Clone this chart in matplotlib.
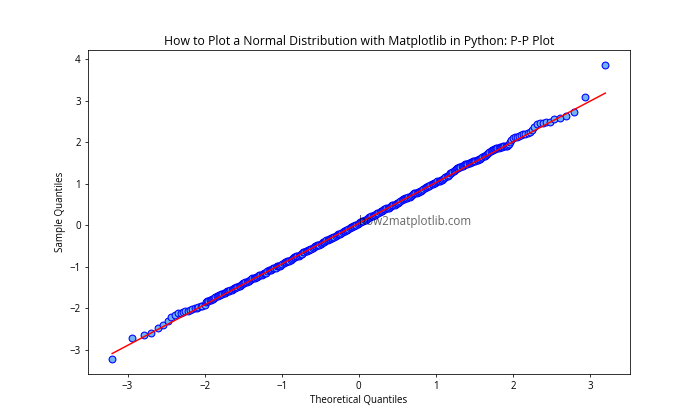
import matplotlib
matplotlib.use("Agg")
import matplotlib.pyplot as plt
import numpy as np

plt.rcParams['font.family'] = ['Open Sans', 'DejaVu Sans']

# Theoretical quantiles (x) and ordered sample values (y)
x_low = [-3.20, -2.94, -2.79, -2.69, -2.61, -2.54, -2.48, -2.43, -2.39, -2.35, -2.31,
         -2.28, -2.25, -2.22, -2.19, -2.16, -2.13, -2.10, -2.08, -2.05, -2.03, -2.00]
y_low = [-3.22, -2.71, -2.65, -2.60, -2.47, -2.41, -2.31, -2.21, -2.15, -2.12, -2.10,
         -2.08, -2.06, -2.05, -2.04, -2.02, -2.00, -1.98, -1.96, -1.95, -1.93, -1.91]

x_mid = [-1.98, -1.95, -1.92, -1.89, -1.86, -1.83, -1.80, -1.77, -1.74, -1.71, -1.68,
         -1.65, -1.62, -1.59, -1.56, -1.53, -1.50, -1.47, -1.44, -1.41, -1.38, -1.35,
         -1.32, -1.29, -1.26, -1.23, -1.20, -1.17, -1.14, -1.11, -1.08, -1.05, -1.02,
         -0.99, -0.96, -0.93, -0.90, -0.87, -0.84, -0.81, -0.78, -0.75, -0.72, -0.69,
         -0.66, -0.63, -0.60, -0.57, -0.54, -0.51, -0.48, -0.45, -0.42, -0.39, -0.36,
         -0.33, -0.30, -0.27, -0.24, -0.21, -0.18, -0.15, -0.12, -0.09, -0.06, -0.03,
         0.00, 0.03, 0.06, 0.09, 0.12, 0.15, 0.18, 0.21, 0.24, 0.27, 0.30, 0.33, 0.36,
         0.39, 0.42, 0.45, 0.48, 0.51, 0.54, 0.57, 0.60, 0.63, 0.66, 0.69, 0.72, 0.75,
         0.78, 0.81, 0.84, 0.87, 0.90, 0.93, 0.96, 0.99, 1.02, 1.05, 1.08, 1.11, 1.14,
         1.17, 1.20, 1.23, 1.26, 1.29, 1.32, 1.35, 1.38, 1.41, 1.44, 1.47, 1.50, 1.53,
         1.56, 1.59, 1.62, 1.65, 1.68, 1.71, 1.74, 1.77, 1.80, 1.83, 1.86, 1.89, 1.92,
         1.95, 1.98]
y_mid = [-1.85, -1.81, -1.79, -1.77, -1.73, -1.69, -1.67, -1.65, -1.62, -1.59, -1.57,
         -1.55, -1.51, -1.49, -1.47, -1.43, -1.39, -1.37, -1.35, -1.31, -1.27, -1.26,
         -1.24, -1.20, -1.19, -1.15, -1.14, -1.08, -1.07, -1.03, -1.02, -0.97, -0.97,
         -0.92, -0.88, -0.86, -0.85, -0.81, -0.76, -0.74, -0.73, -0.70, -0.65, -0.61,
         -0.60, -0.58, -0.54, -0.50, -0.48, -0.47, -0.43, -0.39, -0.35, -0.33, -0.31,
         -0.29, -0.25, -0.21, -0.20, -0.15, -0.13, -0.11, -0.07, -0.03, -0.01, 0.01,
         0.05, 0.09, 0.11, 0.13, 0.17, 0.21, 0.23, 0.25, 0.30, 0.33, 0.35, 0.39, 0.41,
         0.43, 0.47, 0.49, 0.51, 0.55, 0.59, 0.63, 0.65, 0.67, 0.69, 0.73, 0.77, 0.79,
         0.80, 0.84, 0.88, 0.92, 0.94, 0.98, 1.00, 1.02, 1.06, 1.08, 1.10, 1.14, 1.18,
         1.22, 1.27, 1.31, 1.35, 1.38, 1.41, 1.44, 1.47, 1.49, 1.51, 1.53, 1.55, 1.57,
         1.59, 1.62, 1.66, 1.70, 1.75, 1.79, 1.82, 1.85, 1.86, 1.88, 1.89, 1.90, 1.92,
         1.96, 2.05]

x_mid2 = [-1.965, -1.935, -1.905, -1.875, -1.845, -1.815, -1.785, -1.755, -1.725, -1.695,
          -1.665, -1.635, -1.605, -1.575, -1.545, -1.515, -1.485, -1.455, -1.425, -1.395,
          -1.365, -1.335, -1.305, -1.275, -1.245, -1.215, -1.185, -1.155, -1.125, -1.095,
          -1.065, -1.035, -1.005, -0.975, -0.945, -0.915, -0.885, -0.855, -0.825, -0.795,
          -0.765, -0.735, -0.705, -0.675, -0.645, -0.615, -0.585, -0.555, -0.525, -0.495,
          -0.465, -0.435, -0.405, -0.375, -0.345, -0.315, -0.285, -0.255, -0.225, -0.195,
          -0.165, -0.135, -0.105, -0.075, -0.045, -0.015, 0.015, 0.045, 0.075, 0.105,
          0.135, 0.165, 0.195, 0.225, 0.255, 0.285, 0.315, 0.345, 0.375, 0.405, 0.435,
          0.465, 0.495, 0.525, 0.555, 0.585, 0.615, 0.645, 0.675, 0.705, 0.735, 0.765,
          0.795, 0.825, 0.855, 0.885, 0.915, 0.945, 0.975, 1.005, 1.035, 1.065, 1.095,
          1.125, 1.155, 1.185, 1.215, 1.245, 1.275, 1.305, 1.335, 1.365, 1.395, 1.425,
          1.455, 1.485, 1.515, 1.545, 1.575, 1.605, 1.635, 1.665, 1.695, 1.725, 1.755,
          1.785, 1.815, 1.845, 1.875, 1.905, 1.935, 1.965]
y_mid2 = [-1.83, -1.80, -1.78, -1.75, -1.71, -1.68, -1.66, -1.63, -1.61, -1.58,
          -1.56, -1.53, -1.50, -1.48, -1.45, -1.41, -1.38, -1.36, -1.33, -1.29,
          -1.27, -1.25, -1.22, -1.20, -1.17, -1.15, -1.11, -1.08, -1.05, -1.03,
          -0.99, -0.97, -0.95, -0.90, -0.87, -0.86, -0.83, -0.79, -0.75, -0.74,
          -0.71, -0.68, -0.63, -0.61, -0.59, -0.56, -0.52, -0.49, -0.48, -0.45,
          -0.41, -0.37, -0.34, -0.32, -0.30, -0.27, -0.23, -0.21, -0.18, -0.14,
          -0.12, -0.09, -0.05, -0.02, 0.00, 0.03, 0.07, 0.10, 0.12, 0.15,
          0.19, 0.22, 0.24, 0.28, 0.31, 0.34, 0.37, 0.40, 0.42, 0.45, 0.48,
          0.50, 0.53, 0.57, 0.61, 0.64, 0.66, 0.68, 0.71, 0.75, 0.78, 0.80,
          0.82, 0.86, 0.90, 0.93, 0.96, 0.99, 1.01, 1.04, 1.07, 1.09, 1.12,
          1.16, 1.20, 1.25, 1.29, 1.33, 1.37, 1.40, 1.43, 1.46, 1.48, 1.50,
          1.52, 1.54, 1.56, 1.58, 1.60, 1.64, 1.68, 1.73, 1.77, 1.81, 1.84,
          1.86, 1.87, 1.89, 1.90, 1.91, 1.94, 2.00]

x_high = [2.00, 2.03, 2.05, 2.08, 2.10, 2.13, 2.16, 2.19, 2.22, 2.25, 2.28, 2.31,
          2.35, 2.39, 2.43, 2.48, 2.54, 2.61, 2.69, 2.79, 2.94, 3.20]
y_high = [2.10, 2.12, 2.14, 2.16, 2.18, 2.19, 2.21, 2.23, 2.25, 2.30, 2.36, 2.44,
          2.46, 2.47, 2.48, 2.50, 2.55, 2.59, 2.63, 2.73, 3.08, 3.86]

# Least-squares fit line parameters
fit_slope = 0.98
fit_intercept = 0.05

osm = np.array(x_low + x_mid + x_mid2 + x_high)
osr = np.array(y_low + y_mid + y_mid2 + y_high)
order = np.argsort(osm)
osm, osr = osm[order], osr[order]

fig, ax = plt.subplots(figsize=(10, 6), dpi=70)
ax.plot(osm, osr, 'o', markerfacecolor='#6fb3f3', markeredgecolor='blue',
        markersize=7, markeredgewidth=1.1)
ax.plot(osm, fit_slope * osm + fit_intercept, 'r-', linewidth=1.5)

ax.set_title('How to Plot a Normal Distribution with Matplotlib in Python: P-P Plot', fontsize=12.6)
ax.set_xlabel('Theoretical Quantiles', fontsize=10)
ax.set_ylabel('Sample Quantiles', fontsize=10)
ax.text(0, 0, 'how2matplotlib.com', fontsize=12, alpha=0.6)

fig.savefig('out.png', dpi=70)
